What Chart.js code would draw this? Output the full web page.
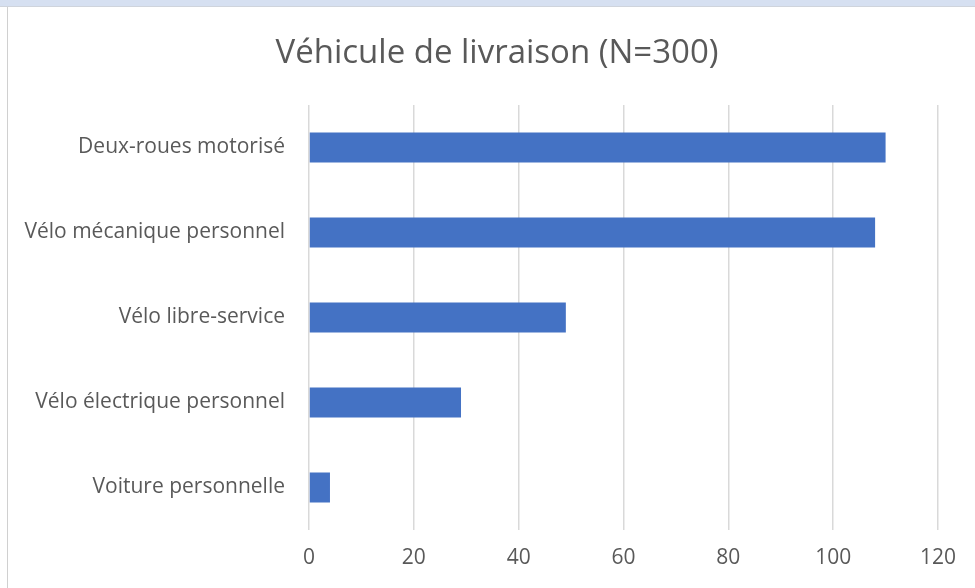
<!DOCTYPE html>
<html>
<head>
<meta charset="utf-8">
<script src="https://cdn.jsdelivr.net/npm/chart.js@4"></script>
<style>
  html, body { margin: 0; padding: 0; background: #fff; }
  #band { position: absolute; left: 0; top: 0; width: 975px; height: 6px; background: #d6e0f1; border-bottom: 1px solid #cfd4dc; }
  #edge { position: absolute; left: 7px; top: 7px; width: 1px; height: 581px; background: #d0d0d0; }
  #wrap { position: absolute; left: 0; top: 0; width: 975px; height: 588px; }
</style>
</head>
<body>
<div id="band"></div>
<div id="edge"></div>
<div id="wrap"><canvas id="chart"></canvas></div>
<script>
const categories = [
  'Deux-roues motorisé',
  'Vélo mécanique personnel',
  'Vélo libre-service',
  'Vélo électrique personnel',
  'Voiture personnelle'
];
const counts = [110, 108, 49, 29, 4];
const xTicks = [0, 20, 40, 60, 80, 100, 120];

const textColor = '#595959';
const fontFamily = '"Open Sans", sans-serif';

// centre the title on the whole frame rather than on the padded box
const titleSpan = {
  id: 'titleSpan',
  afterLayout(chart) {
    if (chart.titleBlock) {
      chart.titleBlock.left = 19;
      chart.titleBlock.right = chart.width;
    }
  }
};

const ctx = document.getElementById('chart').getContext('2d');
new Chart(ctx, {
  type: 'bar',
  data: {
    labels: categories,
    datasets: [{
      data: counts,
      backgroundColor: '#4472c4',
      borderWidth: 0,
      categoryPercentage: 1,
      barPercentage: 0.353
    }]
  },
  options: {
    indexAxis: 'y',
    responsive: true,
    maintainAspectRatio: false,
    animation: false,
    layout: { padding: { top: 10, right: 37, bottom: 0, left: 0 } },
    plugins: {
      legend: { display: false },
      tooltip: { enabled: false },
      title: {
        display: true,
        text: 'Véhicule de livraison (N=300)',
        color: textColor,
        font: { family: fontFamily, size: 33, weight: 'normal' },
        padding: { top: 24, bottom: 31.4 }
      }
    },
    scales: {
      x: {
        min: 0,
        max: 120,
        afterBuildTicks: scale => { scale.ticks = xTicks.map(v => ({ value: v })); },
        afterFit: scale => { scale.height = 58; },
        grid: { color: '#d9d9d9', lineWidth: 1.5, drawTicks: false },
        border: { display: false },
        ticks: { color: textColor, padding: 15, font: { family: fontFamily, size: 21 } }
      },
      y: {
        afterFit: scale => { scale.width = 309; },
        grid: { display: false, drawTicks: false },
        border: { display: false },
        ticks: { color: textColor, padding: 24, font: { family: fontFamily, size: 21 } }
      }
    }
  },
  plugins: [titleSpan]
});
</script>
</body>
</html>
